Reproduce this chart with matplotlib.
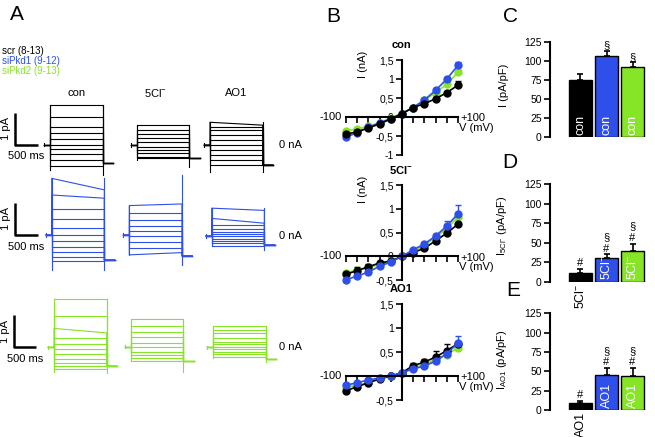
import numpy as np
import matplotlib.pyplot as plt

plt.rcParams['font.family'] = ['Liberation Sans', 'DejaVu Sans']
plt.rcParams['mathtext.default'] = 'regular'

BLACK = '#000000'
BLUE = '#2F4FEA'
GREEN = '#86E526'

groups = ['scr (8-13)', 'siPkd1 (9-12)', 'siPkd2 (9-13)']
colors = [BLACK, BLUE, GREEN]
conds = ['con', '5Cl$^{-}$', 'AO1']

# ---- A: whole cell currents, level of each sweep (pA from holding) at pulse start
scr_con = [1.23, 0.87, 0.56, 0.35, 0.16, -0.02, -0.15, -0.31, -0.48, -0.66]
scr_cl = [0.62, 0.47, 0.33, 0.21, 0.08, -0.05, -0.16, -0.26, -0.37, -0.42]
scr_ao1 = [0.71, 0.57, 0.47, 0.31, 0.16, 0.00, -0.16, -0.31, -0.47, -0.62]
pkd1_con = [1.77, 1.25, 0.80, 0.50, 0.23, 0.00, -0.19, -0.37, -0.54, -0.68, -0.81]
pkd1_cl = [0.92, 0.68, 0.47, 0.29, 0.12, -0.03, -0.21, -0.40, -0.62]
pkd1_ao1 = [0.87, 0.55, 0.34, 0.22, 0.13, 0.06, -0.01, -0.08, -0.16, -0.23, -0.30]
pkd2_con = [1.50, 0.98, 0.59, 0.28, 0.10, -0.06, -0.22, -0.36, -0.48, -0.58, -0.68]
pkd2_cl = [0.86, 0.65, 0.47, 0.29, 0.13, -0.02, -0.16, -0.27, -0.36, -0.44]
pkd2_ao1 = [0.67, 0.54, 0.44, 0.28, 0.18, 0.10, 0.02, -0.06, -0.15, -0.22, -0.29]
traces = [[scr_con, scr_cl, scr_ao1],
          [pkd1_con, pkd1_cl, pkd1_ao1],
          [pkd2_con, pkd2_cl, pkd2_ao1]]
# sweeps that run down / up during the pulse: (group, cond, sweep) -> end level
sweep_end = {(0, 2, 0): 0.62,
             (1, 0, 0): 1.41, (1, 0, 1): 1.15, (1, 1, 0): 0.97, (1, 1, 8): -0.55,
             (1, 2, 0): 0.80, (1, 2, 1): 0.40,
             (2, 0, 2): 0.45}
tail_level = [[-0.58, -0.41, -0.62], [-0.78, -0.65, -0.28], [-0.58, -0.44, -0.37]]
on_lo = [[-0.80, -0.47, -0.83], [-1.10, -0.62, -0.30], [-0.78, -0.44, -0.33]]
off_lo = [[-0.95, -0.68, -0.84], [-1.10, -0.94, -0.44], [-0.80, -0.78, -0.45]]
off_hi = [[0, 0, 0], [0, 1.87, 0], [0, 0, 0]]
pulse_ms = 1170
pre_ms = 130
post_ms = 230

# ---- B: I/V curves (nA)
V = np.arange(-100, 101, 20)
iv_con = [[-0.45, -0.39, -0.29, -0.18, -0.05, 0.09, 0.25, 0.35, 0.48, 0.64, 0.84],
          [-0.53, -0.41, -0.27, -0.16, -0.05, 0.09, 0.25, 0.45, 0.70, 1.00, 1.36],
          [-0.36, -0.32, -0.24, -0.15, -0.02, 0.09, 0.25, 0.44, 0.64, 0.86, 1.18]]
iv_con_err = [[0, 0, 0, 0, 0, 0, 0, 0, 0, 0, 0.11],
              [0, 0, 0, 0, 0, 0, 0, 0, 0, 0.05, 0.09],
              [0, 0, 0, 0, 0, 0, 0, 0, 0, 0, 0.05]]
iv_cl = [[-0.38, -0.30, -0.22, -0.14, -0.10, 0.00, 0.08, 0.17, 0.33, 0.49, 0.68],
         [-0.49, -0.42, -0.33, -0.21, -0.12, 0.00, 0.14, 0.26, 0.43, 0.64, 0.90],
         [-0.35, -0.29, -0.24, -0.17, -0.10, 0.00, 0.10, 0.24, 0.40, 0.59, 0.83]]
iv_cl_err = [[0.05, 0.07, 0.06, 0, 0, 0, 0, 0, 0, 0, 0.04],
             [0, 0, 0, 0, 0, 0, 0, 0, 0.04, 0.11, 0.18],
             [0, 0, 0, 0, 0, 0, 0, 0, 0, 0.05, 0.10]]
iv_ao1 = [[-0.31, -0.22, -0.14, -0.06, 0.00, 0.07, 0.22, 0.29, 0.40, 0.53, 0.68],
          [-0.19, -0.14, -0.08, -0.04, 0.00, 0.07, 0.15, 0.21, 0.31, 0.47, 0.69],
          [-0.24, -0.19, -0.14, -0.05, 0.00, 0.07, 0.17, 0.24, 0.35, 0.45, 0.59]]
iv_ao1_err = [[0, 0, 0, 0, 0, 0, 0.06, 0.06, 0.12, 0.13, 0],
              [0, 0, 0, 0, 0, 0, 0, 0, 0, 0, 0.14],
              [0, 0, 0, 0, 0, 0, 0, 0, 0, 0, 0]]

# ---- C-E: current densities (pA/pF)
dens_con = [75.4, 107, 93]
dens_con_err = [8.5, 7, 5.5]
dens_cl = [10.7, 30, 39.4]
dens_cl_err = [6, 5, 9.5]
dens_ao1 = [8.6, 45, 44]
dens_ao1_err = [3.5, 9, 10]
marks_con = ['', '§', '§']
marks_cl = ['#', '§\n#', '§\n#']
marks_ao1 = ['#', '§\n#', '§\n#']

W, H = 655, 437
fig = plt.figure(figsize=(W / 100, H / 100), dpi=100)


def box(x0, y0, x1, y1):
    # pixel box, origin top left
    return fig.add_axes([x0 / W, 1 - y1 / H, (x1 - x0) / W, (y1 - y0) / H])


def ftext(x, y, s, **kw):
    return fig.text(x / W, 1 - y / H, s, **kw)


# ================= A =================
PX_PA = 32.0        # pixels per pA
MS_PX = 500 / 22.5  # ms per pixel
pulse_x = [[50, 136.7, 210], [51.7, 129.3, 211.7], [54, 130.7, 213.3]]
hold_y = [[144.5, 145, 145], [235, 235, 236], [347.3, 346.7, 347.3]]
bar_off = [35, 36.7, 40.5]
label_dx = [0, -8, 0]

for g in range(3):
    col = colors[g]
    for c in range(3):
        x0, yh = pulse_x[g][c], hold_y[g][c]
        ax = box(x0 - 20, yh - 80, x0 + 80, yh + 40)
        ax.set_xlim(-20 * MS_PX, 80 * MS_PX)
        ax.set_ylim(-40 / PX_PA, 80 / PX_PA)
        ax.axis('off')
        lv = traces[g][c]
        tl = tail_level[g][c]
        for k, s in enumerate(lv):
            e = sweep_end.get((g, c, k), s)
            ax.plot([-pre_ms, 0, 0, pulse_ms, pulse_ms, pulse_ms + post_ms],
                    [0, 0, s, e, tl, tl], color=col, lw=0.8, clip_on=False)
        ax.plot([0, 0], [on_lo[g][c], max(lv)], color=col, lw=0.8)
        hi = max(off_hi[g][c], max(lv))
        ax.plot([pulse_ms, pulse_ms], [off_lo[g][c], hi], color=col, lw=0.8)
        ax.plot([-pre_ms, -pre_ms], [-0.05, 0.05], color=col, lw=0.8)
        if c == 0:
            t0 = -bar_off[g] * MS_PX
            ax.plot([t0, t0, t0 + 500], [1, 0, 0], color='black', lw=1.8,
                    clip_on=False, solid_capstyle='butt')
            ax.text(t0 - 9 * MS_PX, 0.5, '1 pA', rotation=90, ha='center',
                    va='center', fontsize=8, clip_on=False)
            ax.text(t0 + 250, -0.37, '500 ms', ha='center', va='center',
                    fontsize=8, clip_on=False)
        if g == 0:
            ax.text(pulse_ms / 2 + label_dx[c] * MS_PX, (yh - 93) / PX_PA,
                    conds[c], ha='center', va='center', fontsize=8)
    ftext(279, hold_y[g][2], '0 nA', ha='left', va='center', fontsize=8)

for g in range(3):
    ftext(2, 51 + 10 * g, groups[g], color=colors[g], fontsize=7,
          ha='left', va='center')

# ================= B =================
iv_sets = [(iv_con, iv_con_err, (-1, 1.5), [1.5, 1, 0.5, 0, -0.5, -1], (60, 155), 'con', True, [2, 1, 0]),
           (iv_cl, iv_cl_err, (-0.5, 1.5), [1.5, 1, 0.5, 0, -0.5], (185.3, 280), '5Cl$^{-}$', True, [2, 0, 1]),
           (iv_ao1, iv_ao1_err, (-0.5, 1.5), [1.5, 1, 0.5, 0, -0.5], (304.3, 400), 'AO1', False, [2, 0, 1])]


def comma(v):
    return ('%g' % v).replace('.', ',')


for data, err, ylim, yt, (y0, y1), title, ylab, order in iv_sets:
    ax = box(346, y0, 458, y1)
    ax.set_xlim(-100, 100)
    ax.set_ylim(*ylim)
    for sp in ['top', 'right']:
        ax.spines[sp].set_visible(False)
    ax.spines['left'].set_position(('data', 0))
    ax.spines['bottom'].set_position(('data', 0))
    ax.spines['left'].set_linewidth(1.5)
    ax.spines['bottom'].set_linewidth(1.5)
    ax.set_xticks(V)
    ax.set_xticklabels([])
    ax.set_yticks(yt)
    ax.set_yticklabels([comma(v) for v in yt], fontsize=7.5)
    ax.tick_params(axis='x', direction='out', length=4.5, width=1.2)
    ax.tick_params(axis='y', direction='out', length=4, width=1.2, pad=2)
    ax.patch.set_visible(False)
    for g in order:
        ax.errorbar(V, data[g], yerr=[np.zeros(11), err[g]], fmt='none',
                    ecolor=colors[g], elinewidth=1, capsize=2, clip_on=False)
        ax.plot(V, data[g], '-o', color=colors[g], ms=5, lw=1.2, clip_on=False)
    ax.annotate('-100', (-100, 0), xytext=(-3, 0), textcoords='offset points',
                ha='right', va='center', fontsize=8)
    ax.annotate('+100', (100, 0), xytext=(2, -1), textcoords='offset points',
                ha='left', va='center', fontsize=8)
    ax.annotate('V (mV)', (100, 0), xytext=(1, -8), textcoords='offset points',
                ha='left', va='center', fontsize=8)
    ftext(401, y0 - 15, title, ha='center', va='center', fontsize=8,
          fontweight='bold')
    if ylab:
        ftext(363, y0 + 4, 'I (nA)', rotation=90, ha='center', va='center',
              fontsize=8)

# ================= C - E =================
bar_sets = [(dens_con, dens_con_err, marks_con, 'con', (42.3, 137.3),
             'I (pA/pF)', 0.55),
            (dens_cl, dens_cl_err, marks_cl, '5Cl$^{-}$', (184.3, 281.7),
             'I$_{5Cl^{-}}$ (pA/pF)', 0.57),
            (dens_ao1, dens_ao1_err, marks_ao1, 'AO1', (313.3, 410),
             'I$_{AO1}$ (pA/pF)', 0.52)]
xb = np.arange(3)
for vals, errs, marks, lab, (y0, y1), ylabel, ly in bar_sets:
    ax = box(550, y0, 650, y1)
    ax.bar(xb, vals, width=0.85, color=colors, edgecolor='black', lw=1)
    ax.errorbar(xb, vals, yerr=[np.zeros(3), errs], fmt='none', ecolor='black',
                elinewidth=1.2, capsize=2.5, capthick=1.2)
    ax.set_xlim(-1.17, 2.67)
    ax.set_ylim(0, 125)
    for sp in ['top', 'right', 'bottom']:
        ax.spines[sp].set_visible(False)
    ax.spines['left'].set_linewidth(1.5)
    ax.set_xticks([])
    ax.set_yticks([0, 25, 50, 75, 100, 125])
    ax.tick_params(axis='y', direction='out', length=4, width=1.2,
                   labelsize=7.5, pad=2)
    ax.set_ylabel(ylabel, fontsize=8)
    ax.yaxis.set_label_coords(-0.41, ly)
    ax.patch.set_visible(False)
    for i in range(3):
        if vals[i] > 25:
            ax.text(i, 2.5, lab, rotation=90, color='white', ha='center',
                    va='bottom', fontsize=9)
        else:
            ax.text(i, -2.5, lab, rotation=90, color='black', ha='center',
                    va='top', fontsize=9, clip_on=False)
        if marks[i]:
            ax.text(i, vals[i] + errs[i] + 1, marks[i], ha='center',
                    va='bottom', fontsize=8, linespacing=1.15)

# panel letters
for s, x, y in [('A', 17, 15), ('B', 333, 17), ('C', 510, 17), ('D', 510, 163),
                ('E', 513, 291)]:
    ftext(x, y, s, fontsize=15, ha='center', va='center')

fig.savefig('out.png', dpi=100)
